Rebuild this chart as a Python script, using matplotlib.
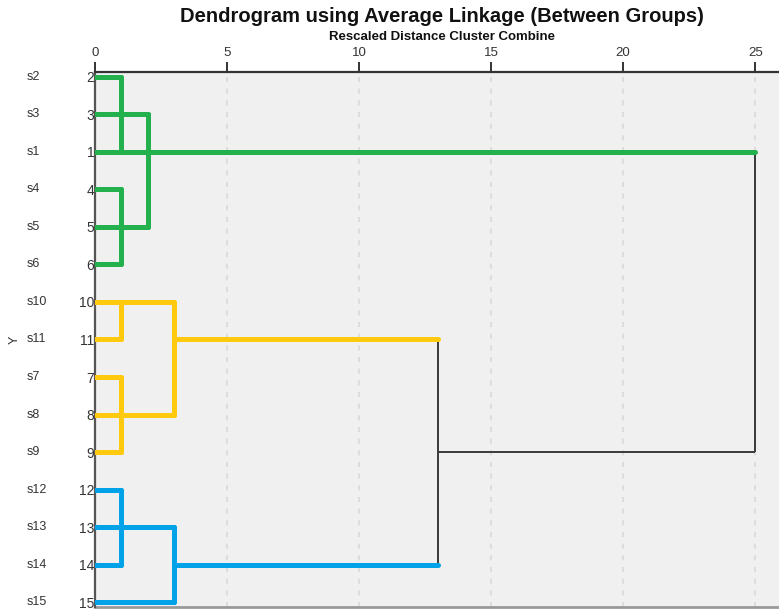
import matplotlib
matplotlib.use("Agg")
import matplotlib.pyplot as plt
from matplotlib.transforms import blended_transform_factory

plt.rcParams["font.family"] = ["Liberation Sans", "DejaVu Sans"]

# ---- data ----
leaf_numbers = ["2", "3", "1", "4", "5", "6", "10", "11", "7", "8", "9", "12", "13", "14", "15"]
case_names = ["s2", "s3", "s1", "s4", "s5", "s6", "s10", "s11", "s7", "s8", "s9", "s12", "s13", "s14", "s15"]
x_ticks = [0, 5, 10, 15, 20, 25]

# horizontal links: (row, from_distance, to_distance)
green_h = [(0, 0, 1), (1, 0, 2), (2, 0, 25), (3, 0, 1), (4, 0, 2), (5, 0, 1)]
# vertical links: (distance, row_from, row_to)
green_v = [(1, 0, 2), (1, 3, 5), (2, 1, 4)]

yellow_h = [(6, 0, 3), (7, 0, 1), (7, 3, 13), (8, 0, 1), (9, 0, 3), (10, 0, 1)]
yellow_v = [(1, 6, 7), (1, 8, 10), (3, 6, 9)]

blue_h = [(11, 0, 1), (12, 0, 3), (13, 0, 1), (13, 3, 13), (14, 0, 3)]
blue_v = [(1, 11, 13), (3, 12, 14)]

black_h = [(10, 13, 25)]
black_v = [(13, 7, 13), (25, 2, 10)]

GREEN = "#22B14C"
YELLOW = "#FFC90E"
BLUE = "#00A2E8"

fig = plt.figure(figsize=(7.79, 6.10), dpi=100)
ax = fig.add_axes([95 / 779, 3 / 610, 1 - 95 / 779, (607 - 72) / 610])
ax.set_facecolor("#F0F0F0")

n = len(leaf_numbers)
ax.set_xlim(0, 25.9)
ax.set_ylim(n - 1 + 0.13, -0.13)

for xv in x_ticks[1:]:
    ax.axvline(xv, color="#D8D8D8", lw=1.2, ls=(0, (3, 4)), zorder=1)


def draw(hs, vs, color, lw, cap):
    for r, a, b in hs:
        ax.plot([a, b], [r, r], color=color, lw=lw, solid_capstyle=cap, zorder=3)
    for xv, r0, r1 in vs:
        ax.plot([xv, xv], [r0, r1], color=color, lw=lw, solid_capstyle=cap, zorder=3)


draw(black_h, black_v, "#3A3A3A", 1.4, "butt")
draw(green_h, green_v, GREEN, 3.6, "round")
draw(yellow_h, yellow_v, YELLOW, 3.6, "round")
draw(blue_h, blue_v, BLUE, 3.6, "round")

ax.xaxis.tick_top()
ax.set_xticks(x_ticks)
ax.set_xticklabels([str(t) for t in x_ticks], fontsize=9.5, color="#333333")
ax.tick_params(axis="x", direction="out", length=7, width=1.4, color="#333333", pad=2)

ax.set_yticks(range(n))
ax.set_yticklabels(leaf_numbers, fontsize=10, color="#333333")
ax.tick_params(axis="y", length=0, pad=0.5)

for s in ["right", "bottom"]:
    ax.spines[s].set_visible(False)
ax.spines["top"].set_color("#333333")
ax.spines["top"].set_linewidth(1.6)
ax.spines["left"].set_color("#555555")
ax.spines["left"].set_linewidth(1.6)
ax.axhline(n - 1 + 0.13, color="#999999", lw=2, zorder=2, clip_on=False)

tr = blended_transform_factory(fig.transFigure, ax.transData)
for i, name in enumerate(case_names):
    ax.text(27 / 779, i, name, transform=tr, fontsize=9, color="#333333",
            ha="left", va="center")

fig.text(15 / 779, 1 - 340 / 610, "Y", rotation=90, fontsize=9, color="#333333",
         ha="center", va="center")

fig.text(442 / 779, 1 - 17 / 610, "Dendrogram using Average Linkage (Between Groups)",
         fontsize=14.5, fontweight="bold", ha="center", va="center", color="#111111")
fig.text(442 / 779, 1 - 37 / 610, "Rescaled Distance Cluster Combine",
         fontsize=9.5, fontweight="bold", ha="center", va="center", color="#111111")

fig.savefig("out.png", dpi=100)
